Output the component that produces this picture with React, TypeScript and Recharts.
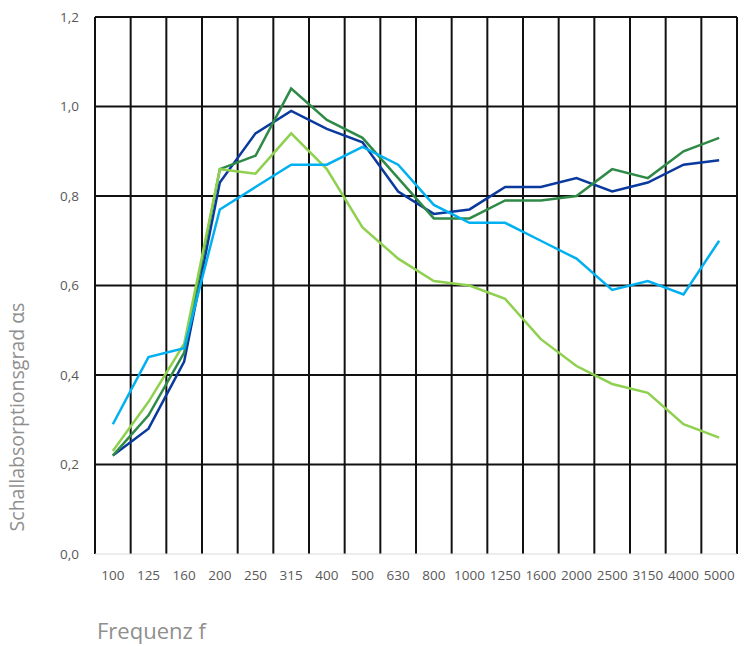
import { LineChart, Line, XAxis, YAxis, CartesianGrid, Label } from "recharts"

const frequencies = [
  "100", "125", "160", "200", "250", "315", "400", "500", "630",
  "800", "1000", "1250", "1600", "2000", "2500", "3150", "4000", "5000",
]

const darkBlue = [0.22, 0.28, 0.43, 0.83, 0.94, 0.99, 0.95, 0.92, 0.81, 0.76, 0.77, 0.82, 0.82, 0.84, 0.81, 0.83, 0.87, 0.88]
const darkGreen = [0.22, 0.31, 0.45, 0.86, 0.89, 1.04, 0.97, 0.93, 0.84, 0.75, 0.75, 0.79, 0.79, 0.8, 0.86, 0.84, 0.9, 0.93]
const lightBlue = [0.29, 0.44, 0.46, 0.77, 0.82, 0.87, 0.87, 0.91, 0.87, 0.78, 0.74, 0.74, 0.7, 0.66, 0.59, 0.61, 0.58, 0.7]
const lightGreen = [0.23, 0.34, 0.47, 0.86, 0.85, 0.94, 0.86, 0.73, 0.66, 0.61, 0.6, 0.57, 0.48, 0.42, 0.38, 0.36, 0.29, 0.26]

const yTicks = [0, 0.2, 0.4, 0.6, 0.8, 1.0, 1.2]

const data = frequencies.map((f, i) => ({
  f,
  darkBlue: darkBlue[i],
  darkGreen: darkGreen[i],
  lightBlue: lightBlue[i],
  lightGreen: lightGreen[i],
}))

const chartWidth = 750
const margin = { top: 17, right: 13, left: 0, bottom: 52 }
const yAxisWidth = 95
// half a category so points sit in the middle of each column
const halfBand = (chartWidth - margin.left - margin.right - yAxisWidth) / frequencies.length / 2

const titleColor = "#8f8f8f"
const tickColor = "#595959"

export default function App() {
  return (
    <div style={{ position: "absolute", left: 0, top: 0, fontFamily: "'Open Sans', sans-serif" }}>
      <LineChart width={chartWidth} height={646} data={data} margin={margin}>
        <CartesianGrid
          stroke="#111"
          strokeWidth={2}
          fill="none"
          // grid lines sit on the category boundaries, not the tick centres
          verticalCoordinatesGenerator={({ offset }: any) =>
            Array.from({ length: frequencies.length + 1 }, (_, i) => offset.left + (i * offset.width) / frequencies.length)
          }
          horizontalCoordinatesGenerator={({ offset }: any) =>
            Array.from({ length: yTicks.length - 1 }, (_, i) => offset.top + (i * offset.height) / (yTicks.length - 1))
          }
        />
        <XAxis
          dataKey="f"
          interval={0}
          height={40}
          padding={{ left: halfBand, right: halfBand }}
          tickLine={false}
          tickMargin={10}
          axisLine={{ stroke: "#d9d9d9" }}
          tick={{ fill: tickColor, fontSize: 13.5 }}
        >
          <Label
            content={() => (
              <text x={97} y={639} fill={titleColor} fontSize={22}>
                Frequenz f
              </text>
            )}
          />
        </XAxis>
        <YAxis
          width={yAxisWidth}
          domain={[0, 1.2]}
          ticks={yTicks}
          axisLine={false}
          tickLine={false}
          tickMargin={10}
          tick={{ fill: tickColor, fontSize: 13.5 }}
          tickFormatter={(v: number) => v.toFixed(1).replace(".", ",")}
        >
          <Label
            content={() => (
              <text
                x={16}
                y={417}
                transform="rotate(-90, 16, 417)"
                textAnchor="middle"
                dominantBaseline="central"
                fill={titleColor}
                fontSize={19.5}
              >
                Schallabsorptionsgrad αs
              </text>
            )}
          />
        </YAxis>
        <Line dataKey="darkBlue" stroke="#0a3a9e" strokeWidth={2.5} dot={false} isAnimationActive={false} />
        <Line dataKey="darkGreen" stroke="#2f8a47" strokeWidth={2.5} dot={false} isAnimationActive={false} />
        <Line dataKey="lightGreen" stroke="#8fd14f" strokeWidth={2.5} dot={false} isAnimationActive={false} />
        <Line dataKey="lightBlue" stroke="#00b0f0" strokeWidth={2.5} dot={false} isAnimationActive={false} />
      </LineChart>
    </div>
  )
}
